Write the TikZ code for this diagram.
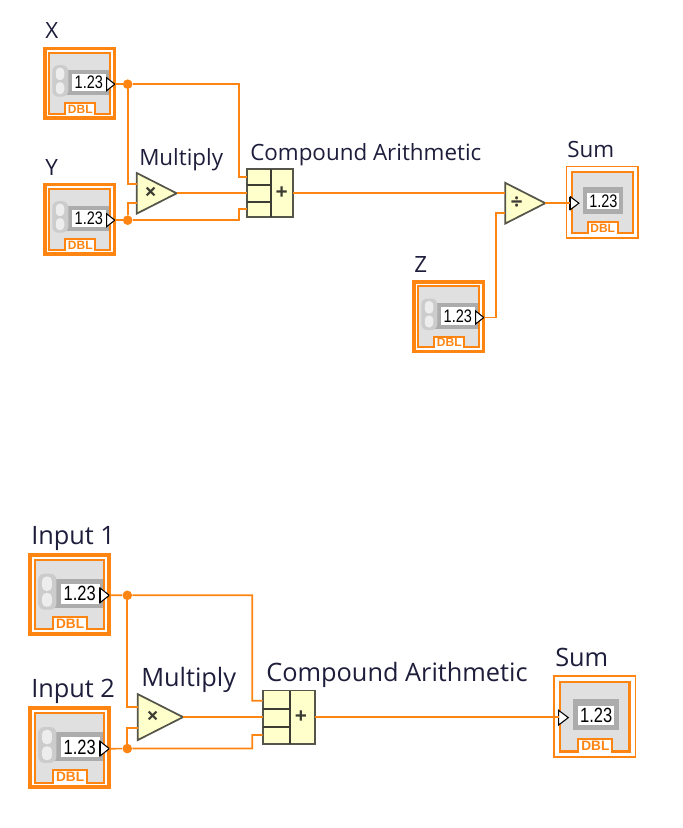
\documentclass[tikz,border=0pt]{standalone}
\usepackage{fontspec}
\usepackage{graphicx}
\setmainfont{Open Sans}
\newfontfamily\digitfont{Liberation Sans}
\usetikzlibrary{shapes.geometric}
\definecolor{wireorange}{HTML}{FF8512}
\definecolor{panelgray}{HTML}{E0E0E0}
\definecolor{framegray}{HTML}{ACACAC}
\definecolor{primfill}{HTML}{FFFFCC}
\definecolor{primedge}{HTML}{55554A}
\definecolor{labelink}{HTML}{1E1E3C}
\tikzset{
  wire/.style={draw=wireorange,line width=1.3pt},
  junction/.style={circle,fill=wireorange,inner sep=0pt,minimum size=7.2pt},
  caption/.style={anchor=base west,inner sep=0pt,text=labelink},
  captionA/.style={caption,font=\fontsize{16.8pt}{16.8pt}\selectfont},
  captionB/.style={caption,font=\fontsize{19pt}{19pt}\selectfont},
  primtri/.style={isosceles triangle,isosceles triangle stretches,shape border rotate=0,
    anchor=lower side,draw=primedge,fill=primfill,line width=1.3pt,inner sep=0pt,outer sep=0pt},
  primbox/.style={rectangle,draw=primedge,fill=primfill,line width=1.3pt,inner sep=0pt,outer sep=0pt},
  primline/.style={draw=primedge!70!black,line width=1.3pt},
  primsign/.style={inner sep=0pt,text=primedge!70!black,font=\fontsize{16pt}{16pt}\selectfont\bfseries},
}
% Panel shared by both terminal kinds: gray face with the notch for the type tag
\newcommand{\lvface}[2]{%
  \path[fill=panelgray,draw=wireorange,line width=#2]
    (#1,6) -- (67,6) -- (67,67.3) -- (52,67.3) -- (52,56.5) -- (22,56.5) -- (22,67.3) -- (#1,67.3) -- cycle;
}
\newcommand{\lvtag}[2]{%
  \node[inner sep=0pt,text=wireorange] (#1-dbl) at (37,62.3)
    {\fontsize{#2}{#2}\selectfont\digitfont\bfseries DBL};
}
% Control terminal: heavy border, spinner, numeric field, output triangle
\newcommand{\lvcontrol}[4]{%
  \begin{scope}[shift={(#2,#3)},scale=#4]
    \pgfmathsetlengthmacro{\boxside}{69.5*0.75*#4}
    \pgfmathsetlengthmacro{\bandw}{3.5*0.75*#4}
    \pgfmathsetmacro{\tagsize}{9*#4}
    \pgfmathsetmacro{\numsize}{13.6*#4}
    \node[name=#1,rectangle,draw=wireorange,fill=white,line width=\bandw,minimum size=\boxside,inner sep=0pt] at (36.5,36.5) {};
    \lvface{6}{1.5pt}
    \fill[framegray] (22,23) rectangle (66,48.5);
    \fill[black!20,rounded corners=4.5pt] (9,18.5) rectangle (25,50);
    \fill[black!7,rounded corners=3pt] (12.5,21) rectangle (21,33.5);
    \fill[black!7,rounded corners=3pt] (12.5,35.5) rectangle (21,47.5);
    \fill[white] (29,27.3) rectangle (63,44.7);
    \node[inner sep=0pt] (#1-val) at (45.5,36) {\fontsize{\numsize}{\numsize}\selectfont\digitfont\scalebox{0.8}[1]{1.23}};
    \path[fill=white,draw=black,line width=0.8pt] (63.3,31) -- (71.5,37.5) -- (63.3,44) -- cycle;
    \draw[black,line width=1.3pt] (63.3,31) -- (63.3,44);
    \lvtag{#1}{\tagsize}
    \coordinate (#1-out) at (71.5,37.5);
  \end{scope}%
}
% Indicator terminal: thin border, numeric field, input triangle
\newcommand{\lvindicator}[4]{%
  \begin{scope}[shift={(#2,#3)},scale=#4]
    \pgfmathsetlengthmacro{\boxside}{71.6*0.75*#4}
    \pgfmathsetmacro{\tagsize}{9*#4}
    \pgfmathsetmacro{\numsize}{13.6*#4}
    \node[name=#1,rectangle,draw=wireorange,fill=white,line width=1.3pt,minimum size=\boxside,inner sep=0pt] at (36.5,36.5) {};
    \lvface{6}{1.6pt}
    \fill[framegray] (17,21) rectangle (57.7,48);
    \fill[white] (21.7,27) rectangle (53.7,43.7);
    \node[inner sep=0pt] (#1-val) at (37.7,35.5) {\fontsize{\numsize}{\numsize}\selectfont\digitfont\scalebox{0.8}[1]{1.23}};
    \path[fill=white,draw=black,line width=0.8pt] (4.6,31) -- (13.2,37.5) -- (4.6,44) -- cycle;
    \draw[black,line width=1.3pt] (4.6,31) -- (4.6,44);
    \lvtag{#1}{\tagsize}
    \coordinate (#1-in) at (4.6,37.5);
  \end{scope}%
}
\begin{document}
\begin{tikzpicture}[x=0.75pt,y=-0.75pt]
  \useasboundingbox[fill=white] (0,0) rectangle (682,828);

  % Upper diagram: (X*Y + X + Y) / Z
  \lvcontrol{x}{43.3}{46.7}{1}
  \lvcontrol{y}{43.3}{182.7}{1}
  \lvcontrol{z}{412.3}{280}{1}
  \lvindicator{sumA}{565.7}{165.7}{1}

  \node[captionA] (lblx) at (45,38) {X};
  \node[captionA] (lbly) at (45,175) {Y};
  \node[captionA] (lblz) at (414,272) {Z};
  \node[captionA] (lblm) at (139,165) {Multiply};
  \node[captionA] (lblc) at (250,160) {Compound Arithmetic};
  \node[captionA] (lbls) at (567,157) {Sum};

  \node[primtri,minimum width=30.5pt,minimum height=30pt] (mulA) at (136.7,193.3) {};
  \node[primsign] (mulAsign) at (150.7,193.3) {×};
  \node[primbox,minimum width=34.5pt,minimum height=36pt] (cmpA) at (270.3,193.3) {};
  \draw[primline] (271.3,169.3) -- (271.3,217.3);
  \draw[primline] (247.3,185) -- (271.3,185);
  \draw[primline] (247.3,201.7) -- (271.3,201.7);
  \node[primsign] (cmpAsign) at (281.7,193.3) {+};
  \node[primtri,minimum width=30.5pt,minimum height=30pt] (divA) at (505.3,203.2) {};
  \node[primsign] (divAsign) at (516.7,203.3) {÷};

  \coordinate (mulAin1) at (136.7,184);
  \coordinate (mulAin2) at (136.7,202.7);
  \coordinate (cmpAin1) at (247.3,177.3);
  \coordinate (cmpAin3) at (247.3,209);
  \coordinate (divAin1) at (505.3,193.3);
  \coordinate (divAin2) at (505.3,212.7);
  \node[junction] (jx) at (127.7,84.2) {};
  \node[junction] (jy) at (127.7,220.2) {};
  \coordinate (kx) at (238.7,84.2);
  \coordinate (ky) at (238.7,220.2);
  \coordinate (kz) at (496.3,317.5);

  \draw[wire] (x-out) -- (jx) -- (kx) |- (cmpAin1);
  \draw[wire] (jx) |- (mulAin1);
  \draw[wire] (y-out) -- (jy) -- (ky) |- (cmpAin3);
  \draw[wire] (jy) |- (mulAin2);
  \draw[wire] (mulA.apex) -- (mulA.apex -| cmpA.west);
  \draw[wire] (cmpA.east) -- (divAin1 |- cmpA.east);
  \draw[wire] (z-out) -- (kz) |- (divAin2);
  \draw[wire] (divA.apex) -- (divA.apex -| sumA-in);

  % Lower diagram: Input 1 * Input 2 + Input 1 + Input 2
  \lvcontrol{ia}{28}{552.7}{1.137}
  \lvcontrol{ib}{28}{706}{1.137}
  \lvindicator{sumB}{553.3}{675}{1.137}

  \node[captionB] (lblia) at (31,544) {Input 1};
  \node[captionB] (lblib) at (31,697) {Input 2};
  \node[captionB] (lblmb) at (141,686) {Multiply};
  \node[captionB] (lblcb) at (266,681) {Compound Arithmetic};
  \node[captionB] (lblsb) at (555,666) {Sum};

  \node[primtri,minimum width=34.5pt,minimum height=34pt] (mulB) at (137.7,717.1) {};
  \node[primsign] (mulBsign) at (152.7,717.5) {×};
  \node[primbox,minimum width=39pt,minimum height=40pt] (cmpB) at (288.9,717.1) {};
  \draw[primline] (290,691) -- (290,744.3);
  \draw[primline] (262.7,709.3) -- (290,709.3);
  \draw[primline] (262.7,726.7) -- (290,726.7);
  \node[primsign] (cmpBsign) at (301,717.5) {+};

  \coordinate (mulBin1) at (137.7,707.3);
  \coordinate (mulBin2) at (137.7,728.3);
  \coordinate (cmpBin1) at (262.7,700.7);
  \coordinate (cmpBin3) at (262.7,735);
  \node[junction] (jia) at (127.3,595.3) {};
  \node[junction] (jib) at (127.3,748.6) {};
  \coordinate (kia) at (252.3,595.3);
  \coordinate (kib) at (252.3,748.6);

  \draw[wire] (ia-out) -- (jia) -- (kia) |- (cmpBin1);
  \draw[wire] (jia) |- (mulBin1);
  \draw[wire] (ib-out) -- (jib) -- (kib) |- (cmpBin3);
  \draw[wire] (jib) |- (mulBin2);
  \draw[wire] (mulB.apex) -- (mulB.apex -| cmpB.west);
  \draw[wire] (cmpB.east) -- (cmpB.east -| sumB-in);
\end{tikzpicture}
\end{document}
